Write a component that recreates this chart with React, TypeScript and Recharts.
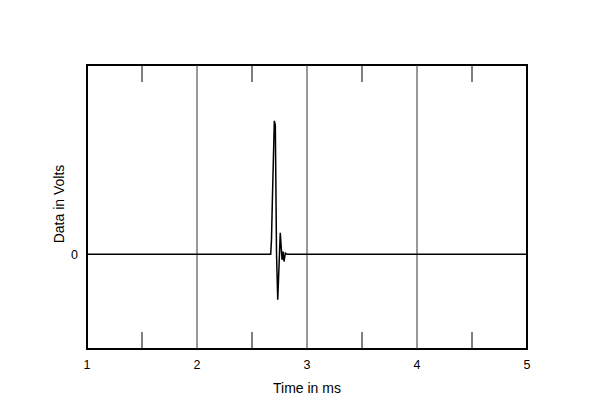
import React from 'react';
import { LineChart, Line, XAxis, YAxis, ReferenceLine, ReferenceArea } from 'recharts';

// Time in ms
const timeMs = [1, 2.67, 2.677, 2.686, 2.703, 2.712, 2.723, 2.734, 2.757, 2.773, 2.782, 2.791, 2.803, 2.818, 5];
// Data in Volts (arbitrary units)
const volts = [0, 0, 0.15, 0.61, 1.41, 1.366, 0, -0.48, 0.227, -0.058, 0.03, -0.076, 0.013, 0, 0];

const xTicks = [1, 1.5, 2, 2.5, 3, 3.5, 4, 4.5, 5];
const gridX = [2, 3, 4];
const yTicks = [0];
const xDomain = [1, 5];
const yDomain = [-1, 2];

const data = timeMs.map((t, i) => ({ t, v: volts[i] }));

const FONT = '"Liberation Sans", Arial, sans-serif';

const BottomTick = (props: any) => {
  const { x, y, payload } = props;
  const major = Number.isInteger(payload.value);
  if (major) {
    return (
      <text x={x} y={y + 20} textAnchor="middle" fontSize={12.5} fontFamily={FONT} fill="#000">
        {payload.value}
      </text>
    );
  }
  return <line x1={x} x2={x} y1={y} y2={y - 17} stroke="#000" strokeWidth={1} />;
};

const TopTick = (props: any) => {
  const { x, y, payload } = props;
  const major = Number.isInteger(payload.value);
  if (major) return <g />;
  return <line x1={x} x2={x} y1={y} y2={y + 17} stroke="#000" strokeWidth={1} />;
};

export default function App() {
  return (
    <div style={{ position: 'absolute', left: 0, top: 0, background: '#fff' }}>
      <LineChart width={600} height={414} data={data} margin={{ top: 45, right: 73, bottom: 0, left: 0 }}>
        <XAxis
          dataKey="t"
          type="number"
          domain={xDomain}
          ticks={xTicks}
          tickSize={0}
          tickMargin={0}
          axisLine={false}
          tick={<BottomTick />}
          height={65}
          interval={0}
          label={{
            content: (p: any) => {
              const vb = p.viewBox || { x: 87, y: 349, width: 440 };
              return (
                <text x={vb.x + vb.width / 2} y={vb.y + 44} textAnchor="middle" fontSize={14} fontFamily={FONT} fill="#000">
                  Time in ms
                </text>
              );
            },
          }}
        />
        <XAxis
          xAxisId="top"
          orientation="top"
          dataKey="t"
          type="number"
          domain={xDomain}
          ticks={xTicks}
          tickSize={0}
          tickMargin={0}
          axisLine={false}
          tick={<TopTick />}
          height={20}
          interval={0}
        />
        <YAxis
          type="number"
          domain={yDomain}
          ticks={yTicks}
          width={87}
          tickSize={0}
          tickMargin={9}
          axisLine={false}
          tickLine={false}
          tick={{ fontSize: 12.5, fontFamily: FONT, fill: '#000' }}
          label={{
            content: (p: any) => {
              const vb = p.viewBox || { x: 0, y: 65, width: 87, height: 284 };
              const cx = 64;
              const cy = vb.y + vb.height / 2 - 3;
              return (
                <text x={cx} y={cy} transform={`rotate(-90, ${cx}, ${cy})`} textAnchor="middle" fontSize={14} fontFamily={FONT} fill="#000">
                  Data in Volts
                </text>
              );
            },
          }}
        />
        {gridX.map((g) => (
          <ReferenceLine key={g} x={g} stroke="#333" strokeWidth={1} />
        ))}
        <Line
          dataKey="v"
          type="linear"
          stroke="#000"
          strokeWidth={1.5}
          dot={false}
          isAnimationActive={false}
        />
        <ReferenceArea
          x1={xDomain[0]}
          x2={xDomain[1]}
          y1={yDomain[0]}
          y2={yDomain[1]}
          fill="none"
          fillOpacity={0}
          stroke="#000"
          strokeWidth={2}
          ifOverflow="visible"
        />
      </LineChart>
    </div>
  );
}
